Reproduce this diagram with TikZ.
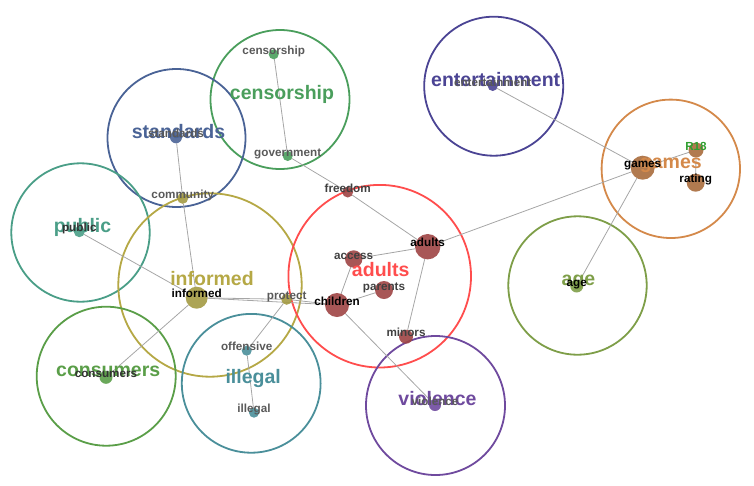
\documentclass[tikz,border=0pt]{standalone}
\usepackage{fontspec}
\setmainfont{Liberation Sans}

\definecolor{cenCol}{HTML}{4A9E5C}
\definecolor{stdCol}{HTML}{4A6396}
\definecolor{entCol}{HTML}{4B4494}
\definecolor{gamCol}{HTML}{D4894A}
\definecolor{gamDot}{HTML}{A86B3C}
\definecolor{rCol}{HTML}{2E9E2E}
\definecolor{pubCol}{HTML}{4A9E87}
\definecolor{infCol}{HTML}{B5A845}
\definecolor{infDot}{HTML}{A39A42}
\definecolor{adCol}{HTML}{FF4D4D}
\definecolor{adDot}{HTML}{9E4444}
\definecolor{conCol}{HTML}{5A9E48}
\definecolor{illCol}{HTML}{4A8F9A}
\definecolor{vioCol}{HTML}{6F4A9E}
\definecolor{ageCol}{HTML}{7E9E48}

\pgfdeclarelayer{background}
\pgfsetlayers{background,main}

\tikzset{
	ring/.style={circle, line width=1.8pt, inner sep=0pt, outer sep=0pt},
	blob/.style={circle, inner sep=0pt, outer sep=0pt, opacity=0.9},
	link/.style={draw=black!35, line width=0.8pt},
	title/.style={anchor=base, font=\bfseries\fontsize{19.5}{20}\selectfont},
	tag/.style={anchor=base, font=\bfseries\fontsize{11.7}{12}\selectfont, text=black!65}
}

\newcommand{\pring}[5]{
	\pgfmathsetmacro{\PRd}{2*#4}
	\node[ring, draw=#5, minimum size=\PRd pt] (r#1) at (#2,#3) {};
}

\newcommand{\pdot}[5]{
	\pgfmathsetmacro{\PDd}{2*#4}
	\node[blob, fill=#5, minimum size=\PDd pt] (d#1) at (#2,#3) {};
}

\begin{document}
\begin{tikzpicture}[x=1pt, y=-1pt]
\useasboundingbox (0,0) rectangle (754,485);

\begin{pgfonlayer}{background}
\pring{Cens}{280}{99.5}{69.5}{cenCol}
\pring{Std}{176.5}{138}{69}{stdCol}
\pring{Ent}{493.7}{86.2}{69.5}{entCol}
\pring{Gam}{670.8}{168.8}{69.2}{gamCol}
\pring{Pub}{80.5}{232.5}{69.2}{pubCol}
\pring{Inf}{210}{285}{91.7}{infCol}
\pring{Ad}{379.7}{276.2}{91.3}{adCol}
\pring{Con}{106.2}{376.2}{69.5}{conCol}
\pring{Ill}{251.2}{383.3}{69.4}{illCol}
\pring{Vio}{435.5}{405.5}{69.5}{vioCol}
\pring{Age}{577.5}{285.5}{69.2}{ageCol}
\end{pgfonlayer}

\pdot{cens}{273.7}{54.3}{5}{cenCol}
\pdot{gov}{287.7}{156}{5}{cenCol}
\pdot{std}{176}{137.3}{6}{stdCol}
\pdot{com}{182.7}{198.3}{5.5}{infDot}
\pdot{ent}{492.7}{86}{5}{entCol}
\pdot{gam}{642.7}{167.7}{12}{gamDot}
\pdot{rr}{696}{150}{7.5}{gamDot}
\pdot{rat}{695.7}{182.7}{9}{gamDot}
\pdot{pub}{79.3}{231.7}{5.5}{pubCol}
\pdot{inf}{196.7}{297.7}{11}{infDot}
\pdot{pro}{286.7}{299.3}{5.5}{infDot}
\pdot{off}{246.7}{350.7}{5}{illCol}
\pdot{ill}{254}{412.7}{5}{illCol}
\pdot{con}{106}{377.3}{6.5}{conCol}
\pdot{fre}{347.7}{192}{5.5}{adDot}
\pdot{acc}{353.7}{259}{8.7}{adDot}
\pdot{adu}{427.7}{246.7}{12.7}{adDot}
\pdot{par}{384}{290}{9}{adDot}
\pdot{chi}{337}{305}{12}{adDot}
\pdot{min}{406}{336.7}{7}{adDot}
\pdot{vio}{435}{405}{6}{vioCol}
\pdot{age}{576.7}{286}{6.5}{ageCol}

\begin{pgfonlayer}{background}
\draw[link] (dcens) -- (dgov);
\draw[link] (dgov) -- (dfre);
\draw[link] (dfre) -- (dadu);
\draw[link] (dstd) -- (dcom);
\draw[link] (dcom) -- (dinf);
\draw[link] (dpub) -- (dinf);
\draw[link] (dinf) -- (dcon);
\draw[link] (dinf) -- (dpro);
\draw[link] (dinf) -- (dchi);
\draw[link] (dpro) -- (dchi);
\draw[link] (dpro) -- (doff);
\draw[link] (doff) -- (dill);
\draw[link] (dacc) -- (dadu);
\draw[link] (dacc) -- (dchi);
\draw[link] (dchi) -- (dpar);
\draw[link] (dchi) -- (dvio);
\draw[link] (dadu) -- (dmin);
\draw[link] (dadu) -- (dgam);
\draw[link] (dgam) -- (dent);
\draw[link] (dgam) -- (dage);
\draw[link] (dgam) -- (drr);
\draw[link] (drr) -- (drat);
\end{pgfonlayer}

% cluster names
\node[title, text=cenCol] at ([xshift=2pt]rCens.center) {censorship};
\node[title, text=stdCol] at ([xshift=2pt]rStd.center) {standards};
\node[title, text=entCol] at ([xshift=2pt]rEnt.center) {entertainment};
\node[title, text=gamCol] at (rGam.center) {games};
\node[title, text=pubCol] at ([xshift=2pt]rPub.center) {public};
\node[title, text=infCol] at ([xshift=2pt]rInf.center) {informed};
\node[title, text=adCol] at ([xshift=1pt]rAd.center) {adults};
\node[title, text=conCol] at ([xshift=2pt]rCon.center) {consumers};
\node[title, text=illCol] at ([xshift=2pt]rIll.center) {illegal};
\node[title, text=vioCol] at ([xshift=2pt]rVio.center) {violence};
\node[title, text=ageCol] at ([xshift=1pt]rAge.center) {age};

% term names
\node[tag] at (dcens) {censorship};
\node[tag] at (dgov) {government};
\node[tag] at (dstd) {standards};
\node[tag] at (dcom) {community};
\node[tag] at (dent) {entertainment};
\node[tag, text=black] at (dgam) {games};
\node[tag, text=rCol] at (drr) {R18};
\node[tag, text=black] at (drat) {rating};
\node[tag, text=black!80] at (dpub) {public};
\node[tag, text=black] at (dinf) {informed};
\node[tag] at (dpro) {protect};
\node[tag] at (doff) {offensive};
\node[tag] at (dill) {illegal};
\node[tag, text=black!80] at (dcon) {consumers};
\node[tag, text=black!75] at (dfre) {freedom};
\node[tag, text=black!75] at (dacc) {access};
\node[tag, text=black] at (dadu) {adults};
\node[tag, text=black!75] at (dpar) {parents};
\node[tag, text=black] at (dchi) {children};
\node[tag, text=black!75] at (dmin) {minors};
\node[tag] at (dvio) {violence};
\node[tag, text=black] at (dage) {age};
\end{tikzpicture}
\end{document}
